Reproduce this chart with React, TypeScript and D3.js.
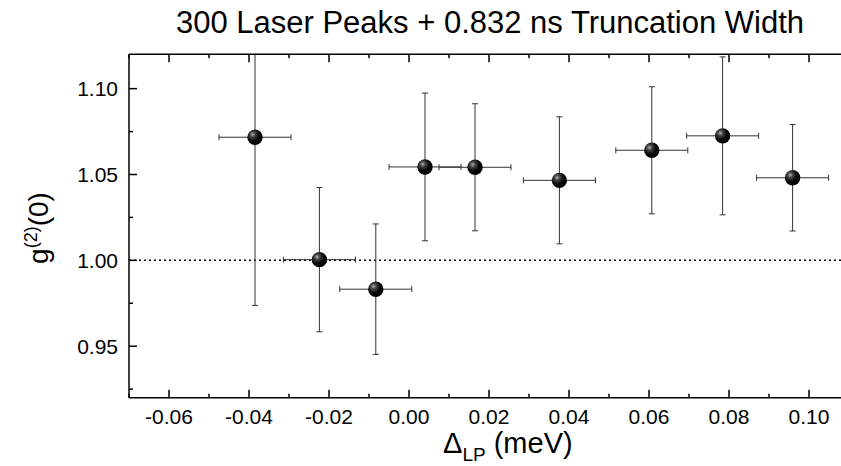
import React from "react";
import * as d3 from "d3";

const xValues = [-0.0385, -0.0224, -0.0083, 0.004, 0.0165, 0.0376, 0.0607, 0.0784, 0.0959];
const yValues = [1.0717, 1.0004, 0.9832, 1.0544, 1.0542, 1.0466, 1.0641, 1.0725, 1.0481];
const xErrors = [0.009, 0.009, 0.009, 0.009, 0.009, 0.009, 0.009, 0.009, 0.009];
const yErrors = [0.098, 0.042, 0.038, 0.043, 0.037, 0.037, 0.037, 0.046, 0.031];
const xTickValues = [-0.06, -0.04, -0.02, 0.0, 0.02, 0.04, 0.06, 0.08, 0.1];
const xMinorTicks = [-0.07, -0.05, -0.03, -0.01, 0.01, 0.03, 0.05, 0.07, 0.09, 0.11];
const yTickValues = [0.95, 1.0, 1.05, 1.1];
const yMinorTicks = [0.925, 0.975, 1.025, 1.075];
const titleText = "300 Laser Peaks + 0.832 ns Truncation Width";
const refLine = 1.0;

const W = 841;
const H = 466;
const L = 129, R = 849, T = 54.3, B = 397.7;
const FONT = "'Liberation Sans', Arial, sans-serif";

export default function App() {
  const x = d3.scaleLinear().domain([-0.07, 0.11]).range([L, R]);
  const y = d3.scaleLinear().domain([0.92, 1.12]).range([B, T]);
  const cap = 3;
  return (
    <svg width={W} height={H} style={{ position: "absolute", left: 0, top: 0, background: "#fff" }} fontFamily={FONT}>
      <defs>
        <clipPath id="plotclip">
          <rect x={L} y={T} width={R - L} height={B - T} />
        </clipPath>
        <radialGradient id="sphere" cx="0.35" cy="0.32" r="0.7">
          <stop offset="0%" stopColor="#b0b0b0" />
          <stop offset="25%" stopColor="#444" />
          <stop offset="60%" stopColor="#080808" />
          <stop offset="100%" stopColor="#000" />
        </radialGradient>
      </defs>
      <rect x={0} y={0} width={W} height={H} fill="#fff" />
      <text x={490} y={33} textAnchor="middle" fontSize={31} fill="#000">{titleText}</text>

      <g clipPath="url(#plotclip)">
        <line x1={L} x2={R} y1={y(refLine)} y2={y(refLine)} stroke="#000" strokeWidth={1.5} strokeDasharray="2,3" />
        {xValues.map((xv, i) => {
          const cx = x(xv), cy = y(yValues[i]);
          const x0 = x(xv - xErrors[i]), x1 = x(xv + xErrors[i]);
          const y0 = y(yValues[i] - yErrors[i]), y1 = y(yValues[i] + yErrors[i]);
          return (
            <g key={i} stroke="#333" strokeWidth={1}>
              <line x1={cx} x2={cx} y1={y0} y2={y1} />
              <line x1={cx - cap} x2={cx + cap} y1={y0} y2={y0} />
              <line x1={cx - cap} x2={cx + cap} y1={y1} y2={y1} />
              <line x1={x0} x2={x1} y1={cy} y2={cy} />
              <line x1={x0} x2={x0} y1={cy - cap} y2={cy + cap} />
              <line x1={x1} x2={x1} y1={cy - cap} y2={cy + cap} />
            </g>
          );
        })}
        {xValues.map((xv, i) => (
          <circle key={"m" + i} cx={x(xv)} cy={y(yValues[i])} r={7.7} fill="url(#sphere)" />
        ))}
      </g>

      <g stroke="#000" strokeWidth={1.5} fill="none">
        <line x1={L} x2={R} y1={B} y2={B} />
        <line x1={L} x2={R} y1={T} y2={T} />
        <line x1={L} x2={L} y1={T} y2={B} />
        {xTickValues.map((t) => (
          <g key={"xt" + t}>
            <line x1={x(t)} x2={x(t)} y1={B} y2={B - 8} />
            <line x1={x(t)} x2={x(t)} y1={T} y2={T + 8} />
          </g>
        ))}
        {xMinorTicks.map((t) => (
          <g key={"xm" + t}>
            <line x1={x(t)} x2={x(t)} y1={B} y2={B - 4} />
            <line x1={x(t)} x2={x(t)} y1={T} y2={T + 4} />
          </g>
        ))}
        {yTickValues.map((t) => (
          <line key={"yt" + t} x1={L} x2={L + 8} y1={y(t)} y2={y(t)} />
        ))}
        {yMinorTicks.map((t) => (
          <line key={"ym" + t} x1={L} x2={L + 4} y1={y(t)} y2={y(t)} />
        ))}
      </g>

      {xTickValues.map((t) => (
        <text key={"xl" + t} x={x(t)} y={423.5} textAnchor="middle" fontSize={21} fill="#000">
          {d3.format(".2f")(t).replace("−", "-")}
        </text>
      ))}
      {yTickValues.map((t) => (
        <text key={"yl" + t} x={118} y={y(t) + 7.5} textAnchor="end" fontSize={21} fill="#000">
          {d3.format(".2f")(t)}
        </text>
      ))}

      <text x={443} y={453} fontSize={29} fill="#000">
        Δ<tspan fontSize={19} dy={8}>LP</tspan><tspan dy={-8}> (meV)</tspan>
      </text>

      <text transform="translate(48,228) rotate(-90)" textAnchor="middle" fontSize={28} fill="#000">
        g<tspan fontSize={18} dy={-11}>(2)</tspan><tspan dy={11}>(0)</tspan>
      </text>
    </svg>
  );
}
